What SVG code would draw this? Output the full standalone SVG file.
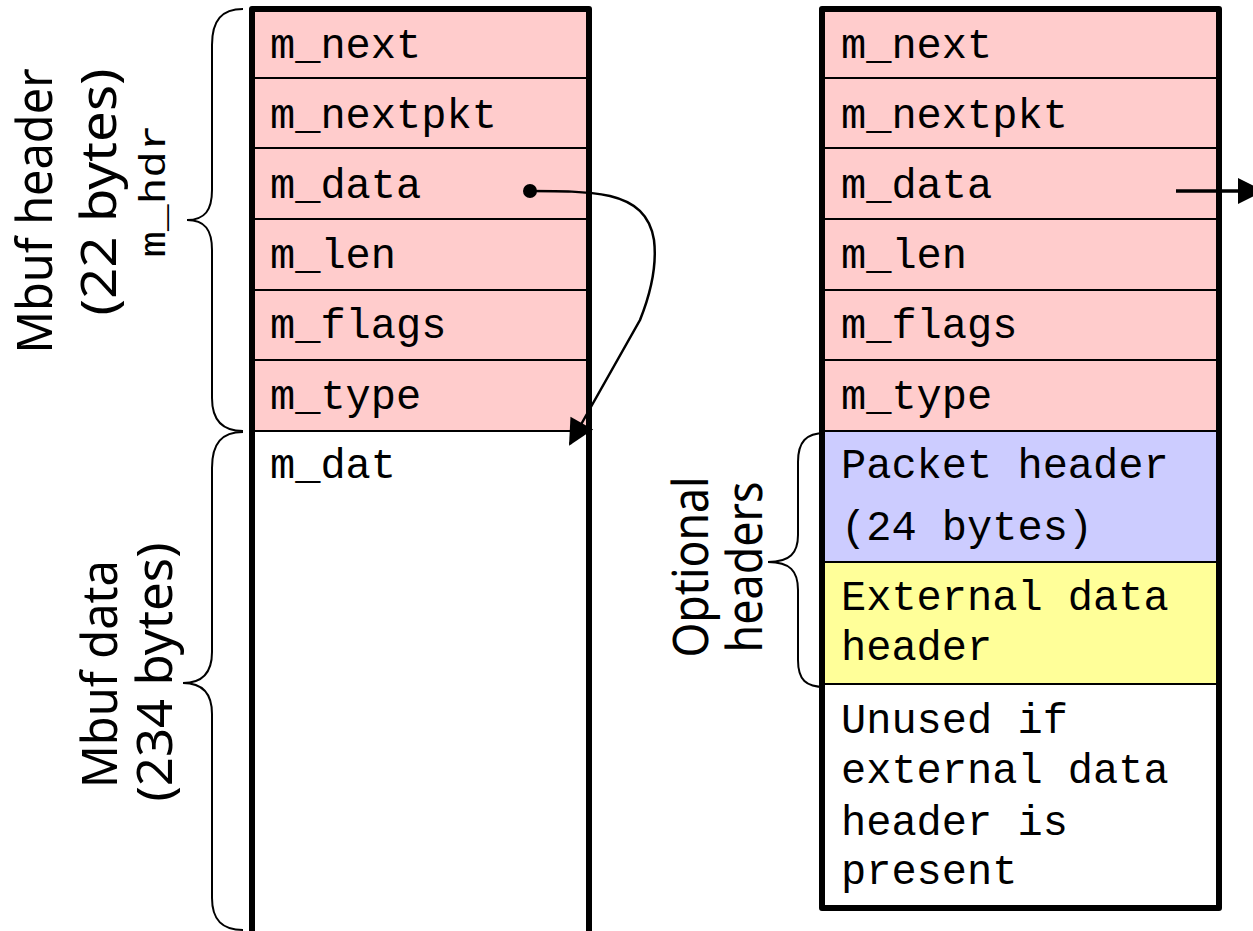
<svg xmlns="http://www.w3.org/2000/svg" width="1253" height="931" viewBox="0 0 1253 931">
  <defs>
    <style>
      .mono { font-family: "Liberation Mono", "Courier New", monospace; font-size: 42px; fill: #000; }
      .hand { font-family: "Noto Sans", "DejaVu Sans", sans-serif; font-size: 50px; fill: #000; text-anchor: middle; }
      .tag { font-family: "Liberation Mono", "Courier New", monospace; font-size: 36px; fill: #000; text-anchor: middle; }
      .pink { fill: #FFCCCC; }
      .blue { fill: #CCCCFF; }
      .yellow { fill: #FFFF99; }
      .div { stroke: #000; stroke-width: 2; fill: none; }
      .frame { stroke: #000; stroke-width: 6; fill: none; stroke-linejoin: round; }
      .brace { stroke: #000; stroke-width: 2; fill: none; }
      .link { stroke: #000; stroke-width: 2.5; fill: none; }
    </style>
    <marker id="head" viewBox="0 0 26 26" refX="24" refY="13" markerWidth="26" markerHeight="26" markerUnits="userSpaceOnUse" orient="auto" overflow="visible">
      <path d="M0,0 L26,13 L0,26 Z" fill="#000"/>
    </marker>
  </defs>

  <rect width="1253" height="931" fill="#fff"/>

  <!-- left mbuf: plain data mbuf -->
  <g id="mbuf-left">
    <rect class="pink" x="250" y="9" width="339" height="422"/>
    <line class="div" x1="250" y1="78" x2="589" y2="78"/>
    <line class="div" x1="250" y1="148" x2="589" y2="148"/>
    <line class="div" x1="250" y1="219" x2="589" y2="219"/>
    <line class="div" x1="250" y1="290" x2="589" y2="290"/>
    <line class="div" x1="250" y1="360" x2="589" y2="360"/>
    <line class="div" x1="250" y1="431" x2="589" y2="431"/>
    <path class="frame" d="M252,940 L252,9 L589,9 L589,940"/>
    <text class="mono" x="270" y="58">m_next</text>
    <text class="mono" x="270" y="128">m_nextpkt</text>
    <text class="mono" x="270" y="198">m_data</text>
    <text class="mono" x="270" y="268">m_len</text>
    <text class="mono" x="270" y="338">m_flags</text>
    <text class="mono" x="270" y="409">m_type</text>
    <text class="mono" x="270" y="478">m_dat</text>
  </g>

  <!-- right mbuf: with optional headers -->
  <g id="mbuf-right">
    <rect class="pink" x="822" y="9" width="397" height="422"/>
    <rect class="blue" x="822" y="431" width="397" height="131"/>
    <rect class="yellow" x="822" y="562" width="397" height="122"/>
    <line class="div" x1="822" y1="78" x2="1219" y2="78"/>
    <line class="div" x1="822" y1="148" x2="1219" y2="148"/>
    <line class="div" x1="822" y1="219" x2="1219" y2="219"/>
    <line class="div" x1="822" y1="290" x2="1219" y2="290"/>
    <line class="div" x1="822" y1="360" x2="1219" y2="360"/>
    <line class="div" x1="822" y1="431" x2="1219" y2="431"/>
    <line class="div" x1="822" y1="562" x2="1219" y2="562"/>
    <line class="div" x1="822" y1="684" x2="1219" y2="684"/>
    <rect class="frame" x="822" y="9" width="397" height="899"/>
    <text class="mono" x="841" y="58">m_next</text>
    <text class="mono" x="841" y="128">m_nextpkt</text>
    <text class="mono" x="841" y="198">m_data</text>
    <text class="mono" x="841" y="268">m_len</text>
    <text class="mono" x="841" y="338">m_flags</text>
    <text class="mono" x="841" y="409">m_type</text>
    <text class="mono" x="841" y="478">Packet header</text>
    <text class="mono" x="841" y="540">(24 bytes)</text>
    <text class="mono" x="841" y="610">External data</text>
    <text class="mono" x="841" y="660">header</text>
    <text class="mono" x="841" y="733">Unused if</text>
    <text class="mono" x="841" y="783">external data</text>
    <text class="mono" x="841" y="835">header is</text>
    <text class="mono" x="841" y="884">present</text>
  </g>

  <!-- brace labels -->
  <g id="label-header">
    <path class="brace" d="M243,9 C222,9 212,20 212,45 L212,190 C212,210 205,220 187,220 C205,220 212,230 212,250 L212,398 C212,420 222,431 243,431"/>
    <text class="hand" transform="translate(52,211) rotate(-90)" textLength="285" lengthAdjust="spacingAndGlyphs">Mbuf header</text>
    <text class="hand" transform="translate(116,192) rotate(-90)" textLength="247" lengthAdjust="spacingAndGlyphs">(22 bytes)</text>
    <text class="tag" transform="translate(165,191) rotate(-90)" textLength="133" lengthAdjust="spacingAndGlyphs">m_hdr</text>
  </g>

  <g id="label-data">
    <path class="brace" d="M243,432 C222,432 212,443 212,468 L212,652 C212,672 203,683 183,683 C203,683 212,694 212,714 L212,898 C212,920 222,930 243,930"/>
    <text class="hand" transform="translate(117,674) rotate(-90)" textLength="228" lengthAdjust="spacingAndGlyphs">Mbuf data</text>
    <text class="hand" transform="translate(172,672) rotate(-90)" textLength="259" lengthAdjust="spacingAndGlyphs">(234 bytes)</text>
  </g>

  <g id="label-optional">
    <path class="brace" d="M825,433 C806,433 798,442 798,462 L798,535 C798,553 790,562 768,562 C790,562 798,571 798,590 L798,660 C798,680 806,687 825,687"/>
    <text class="hand" transform="translate(708,567) rotate(-90)" textLength="181" lengthAdjust="spacingAndGlyphs">Optional</text>
    <text class="hand" transform="translate(762,567) rotate(-90)" textLength="171" lengthAdjust="spacingAndGlyphs">headers</text>
  </g>

  <!-- pointers -->
  <g id="connectors">
    <circle cx="530" cy="191" r="7" fill="#000"/>
    <path class="link" d="M530,191 C560,191 585,191 610,196 C635,202 650,215 654,240 C657,265 652,290 640,320 L570,444" marker-end="url(#head)"/>
    <line x1="1176" y1="191" x2="1262" y2="191" stroke="#000" stroke-width="3.5" marker-end="url(#head)"/>
  </g>
</svg>
